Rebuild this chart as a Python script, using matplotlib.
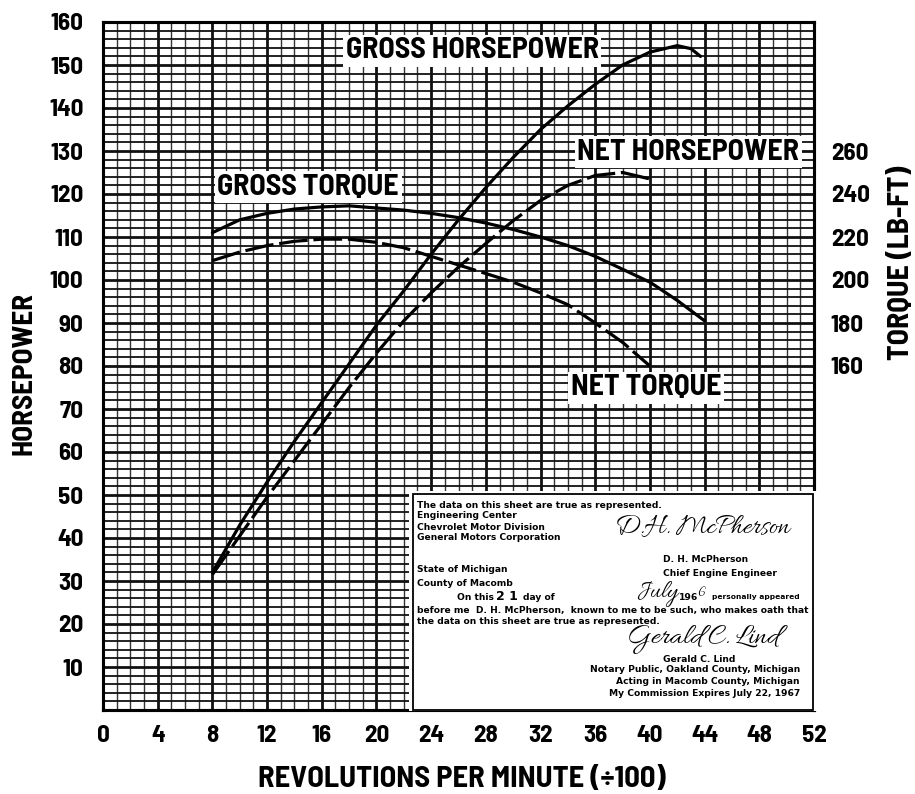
import matplotlib
matplotlib.use("Agg")
import matplotlib.pyplot as plt
from matplotlib.patches import Rectangle
import numpy as np

# ---- engine test data (RPM / 100) ----
gross_hp_rpm = [8, 10, 12, 14, 16, 18, 20, 22, 24, 26, 28, 30, 32, 34, 36, 38, 40, 42, 43, 43.7]
gross_hp = [32, 43, 53, 62.5, 71.5, 80.5, 89.5, 97.5, 106, 114, 121.5, 128.5, 135, 140.5,
            145.5, 150, 153, 154.5, 153.8, 152]

net_hp_rpm = [8, 10, 12, 14, 16, 18, 20, 22, 24, 26, 28, 30, 32, 34, 36, 38, 40]
net_hp = [31.5, 40.5, 49.5, 58, 66.5, 75, 83, 90.5, 97, 103, 108.5, 113.8, 118.5, 122,
          124.3, 125, 123.5]

gross_tq_rpm = [8, 10, 12, 14, 16, 18, 20, 22, 24, 26, 28, 30, 32, 34, 36, 38, 40, 42, 44]
gross_tq = [222, 228, 231, 233, 234, 234.5, 233.5, 232.5, 231, 229, 226.5, 223.5, 220, 216,
            211, 205, 199, 190.5, 181]

net_tq_rpm = [8, 10, 12, 14, 16, 18, 20, 22, 24, 26, 28, 30, 32, 34, 36, 38, 40]
net_tq = [209, 213, 216, 218, 219, 219, 217.5, 215, 211, 207, 203, 199, 194, 188.5, 180, 171, 160]

rpm_ticks = list(range(0, 53, 4))
hp_ticks = list(range(10, 161, 10))
tq_ticks = list(range(160, 261, 20))

HEAD = ["Barlow Semi Condensed", "DejaVu Sans"]
SCRIPT = ["Allura", "DejaVu Serif"]
plt.rcParams["font.family"] = HEAD
plt.rcParams["font.weight"] = "bold"
plt.rcParams["font.stretch"] = "condensed"

W, H = 915, 794
fig = plt.figure(figsize=(W / 100, H / 100), dpi=100)
fig.patch.set_facecolor("white")


def fx(px):
    return px / W


def fy(py):
    return 1 - py / H


ax = fig.add_axes([fx(103), fy(710), (814 - 103) / W, (710 - 22) / H])
ax.set_xlim(0, 52)
ax.set_ylim(0, 160)

# graph-paper grid
ink = "#111111"
for v in np.arange(1, 52, 1):
    major = (v % 4 == 0)
    ax.axvline(v, color=ink, lw=2.0 if major else 1.0, alpha=1.0 if major else 0.85, zorder=1)
for h in np.arange(2, 160, 2):
    major = (h % 10 == 0)
    ax.axhline(h, color=ink, lw=2.0 if major else 1.3, zorder=1)

# horsepower curves
ax.plot(gross_hp_rpm, gross_hp, color="black", lw=2.3, solid_capstyle="round", zorder=3)
ax.plot(net_hp_rpm, net_hp, color="black", lw=2.3, linestyle=(0, (9, 1.8)), zorder=3)

ax.set_xticks(rpm_ticks)
ax.set_yticks(hp_ticks)
ax.tick_params(axis="both", length=0, labelsize=18)
ax.tick_params(axis="x", pad=11)
ax.tick_params(axis="y", pad=14)
for sp in ax.spines.values():
    sp.set_linewidth(2.2)
    sp.set_color("black")

# torque on the right-hand scale
ax2 = ax.twinx()
ax2.set_ylim(0, 320)
ax2.plot(gross_tq_rpm, gross_tq, color="black", lw=2.3, solid_capstyle="round", zorder=3)
ax2.plot(net_tq_rpm, net_tq, color="black", lw=2.3, linestyle=(0, (9, 1.8)), zorder=3)
ax2.set_yticks(tq_ticks)
ax2.tick_params(axis="y", length=0, labelsize=18, pad=12)
for sp in ax2.spines.values():
    sp.set_linewidth(2.2)
    sp.set_color("black")

# curve captions
cap = dict(fontsize=21.5, fontweight="bold", ha="center", va="center", zorder=6,
           bbox=dict(facecolor="white", edgecolor="none", pad=2.0))
ax.text(27.0, 153.3, "GROSS HORSEPOWER", **cap)
ax.text(15.0, 121.6, "GROSS TORQUE", **cap)
ax.text(42.8, 129.7, "NET HORSEPOWER", **cap)
ax.text(39.7, 74.9, "NET TORQUE", **cap)

# certification panel
ax2.add_patch(Rectangle((22.37, -0.6), 52.2 - 22.37, 51.0 * 2 + 0.6, transform=ax2.transData,
                        facecolor="white", edgecolor="none", zorder=4, clip_on=False))
ax2.add_patch(Rectangle((22.66, 0), 51.9 - 22.66, 50.2 * 2, transform=ax2.transData,
                        facecolor="white", edgecolor="black", lw=1.3, zorder=5, clip_on=False))

small = dict(fontsize=6.6, fontweight="bold", family="DejaVu Sans", stretch="normal",
             va="center", zorder=7)
lines_left = [
    (505, "The data on this sheet are true as represented."),
    (515, "Engineering Center"),
    (527, "Chevrolet Motor Division"),
    (537, "General Motors Corporation"),
    (570, "State of Michigan"),
    (584, "County of Macomb"),
    (610, "before me  D. H. McPherson,  known to me to be such, who makes oath that"),
    (621, "the data on this sheet are true as represented."),
]
for y, s in lines_left:
    fig.text(fx(417), fy(y), s, ha="left", **small)

fig.text(fx(457), fy(597), "On this", ha="left", **small)
fig.text(fx(496), fy(596), "2 1", ha="left", fontsize=9, fontweight="bold",
         family="DejaVu Sans", stretch="normal", va="center")
fig.text(fx(523), fy(597), "day of", ha="left", **small)
fig.text(fx(679), fy(597), "196", ha="left", **small)
fig.text(fx(697), fy(594), "6", ha="left", fontsize=11, family=SCRIPT, fontweight="normal",
         stretch="normal", va="center")
fig.text(fx(800), fy(597), "personally appeared", ha="right", fontsize=5.4, fontweight="bold",
         family="DejaVu Sans", stretch="normal", va="center")

fig.text(fx(663), fy(560), "D. H. McPherson", ha="left", **small)
fig.text(fx(663), fy(574), "Chief Engine Engineer", ha="left", **small)
fig.text(fx(663), fy(659), "Gerald C. Lind", ha="left", **small)
for y, s in [(670, "Notary Public, Oakland County, Michigan"),
             (682, "Acting in Macomb County, Michigan"),
             (693, "My Commission Expires July 22, 1967")]:
    fig.text(fx(800), fy(y), s, ha="right", **small)

sig = dict(family=SCRIPT, fontweight="normal", stretch="normal", va="center")
fig.text(fx(615), fy(528), "D.H. McPherson", ha="left", fontsize=20, **sig)
fig.text(fx(636), fy(594), "July", ha="left", fontsize=18, **sig)
fig.text(fx(627), fy(640), "Gerald C. Lind", ha="left", fontsize=21.5, **sig)

# axis titles
fig.text(fx(462), fy(779), "REVOLUTIONS PER MINUTE (÷100)", ha="center", va="center",
         fontsize=22, fontweight="bold")
fig.text(fx(24), fy(373), "HORSEPOWER", ha="center", va="center", rotation=90,
         fontsize=21, fontweight="bold")
fig.text(fx(901), fy(263), "TORQUE (LB-FT)", ha="center", va="center", rotation=90,
         fontsize=21.5, fontweight="bold")

fig.savefig("out.png", dpi=100, facecolor="white")
